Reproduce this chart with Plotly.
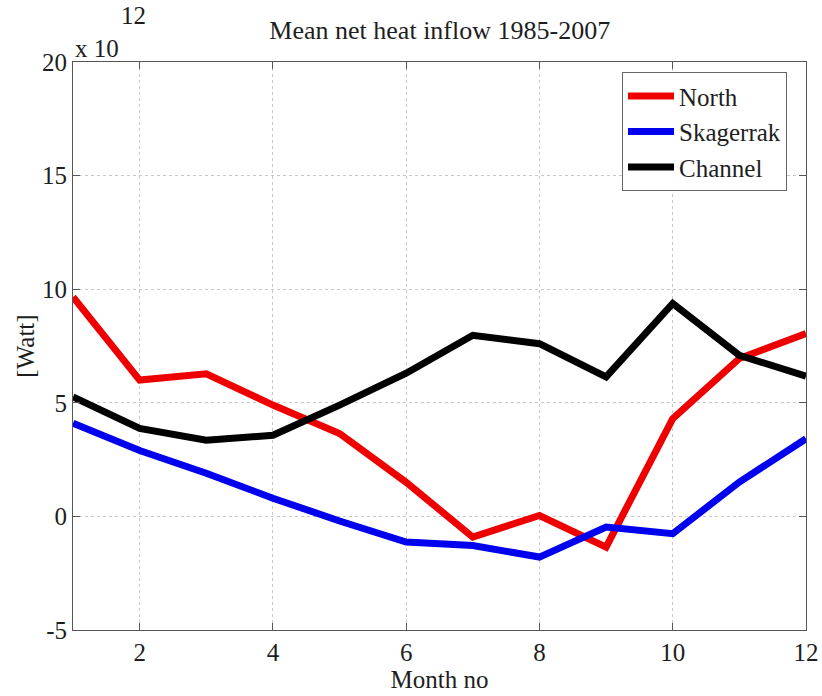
import plotly.graph_objects as go

months = list(range(1, 13))
north = [9.66, 6.0, 6.28, 4.9, 3.65, 1.5, -0.91, 0.04, -1.35, 4.3, 6.95, 8.05]
skagerrak = [4.1, 2.9, 1.9, 0.8, -0.2, -1.13, -1.28, -1.79, -0.47, -0.76, 1.51, 3.42]
channel = [5.26, 3.87, 3.35, 3.57, 4.9, 6.3, 7.97, 7.6, 6.14, 9.37, 7.09, 6.17]

series = [("North", north, "#ee0000"), ("Skagerrak", skagerrak, "#0000ee"), ("Channel", channel, "#000000")]

xticks = [2, 4, 6, 8, 10, 12]
yticks = [-5, 0, 5, 10, 15, 20]
yticklabels = ["-5", "0", "5", "10", "15", "20"]

FONT = "Liberation Serif"
TXT = "#1e1e1e"
FS = 25

fig = go.Figure()
for name, vals, col in series:
    fig.add_trace(go.Scatter(x=months, y=vals, mode="lines", name=name,
                             line=dict(color=col, width=7)))

axis_common = dict(showline=True, linecolor="#555555", linewidth=1, mirror="ticks",
                   ticks="inside", ticklen=7, tickcolor="#555555", automargin=False,
                   showgrid=True, gridcolor="#c8c8c8", griddash="dot", gridwidth=1,
                   zeroline=False, tickfont=dict(family=FONT, size=FS, color=TXT))

fig.update_xaxes(range=[1, 12], tickvals=xticks, **axis_common,
                 title=dict(text="Month no", font=dict(family=FONT, size=FS, color=TXT), standoff=2))
fig.update_yaxes(range=[-5, 20], tickvals=yticks, ticktext=yticklabels, **axis_common,
                 title=dict(text="[Watt]", font=dict(family=FONT, size=FS, color=TXT), standoff=0))

fig.update_layout(
    width=822, height=696,
    margin=dict(l=73, r=16, t=62, b=66),
    paper_bgcolor="white", plot_bgcolor="white",
    title=dict(text="Mean net heat inflow 1985-2007", x=0.535, xanchor="center", y=0.957, yanchor="middle",
               font=dict(family=FONT, size=26, color=TXT)),
    showlegend=True,
    legend=dict(x=0.749, y=0.982, xanchor="left", yanchor="top",
                bordercolor="#666666", borderwidth=1, bgcolor="white",
                font=dict(family=FONT, size=FS, color=TXT),
                itemwidth=46, tracegroupgap=0),
    annotations=[
        dict(text="x 10", xref="paper", yref="paper", x=0.0, y=1.0, xanchor="left", yanchor="bottom",
             showarrow=False, font=dict(family=FONT, size=FS, color=TXT), yshift=-2),
        dict(text="12", xref="paper", yref="paper", x=0.063, y=1.055, xanchor="left", yanchor="bottom",
             showarrow=False, font=dict(family=FONT, size=FS, color=TXT)),
    ],
)

fig.write_html("out.html")
